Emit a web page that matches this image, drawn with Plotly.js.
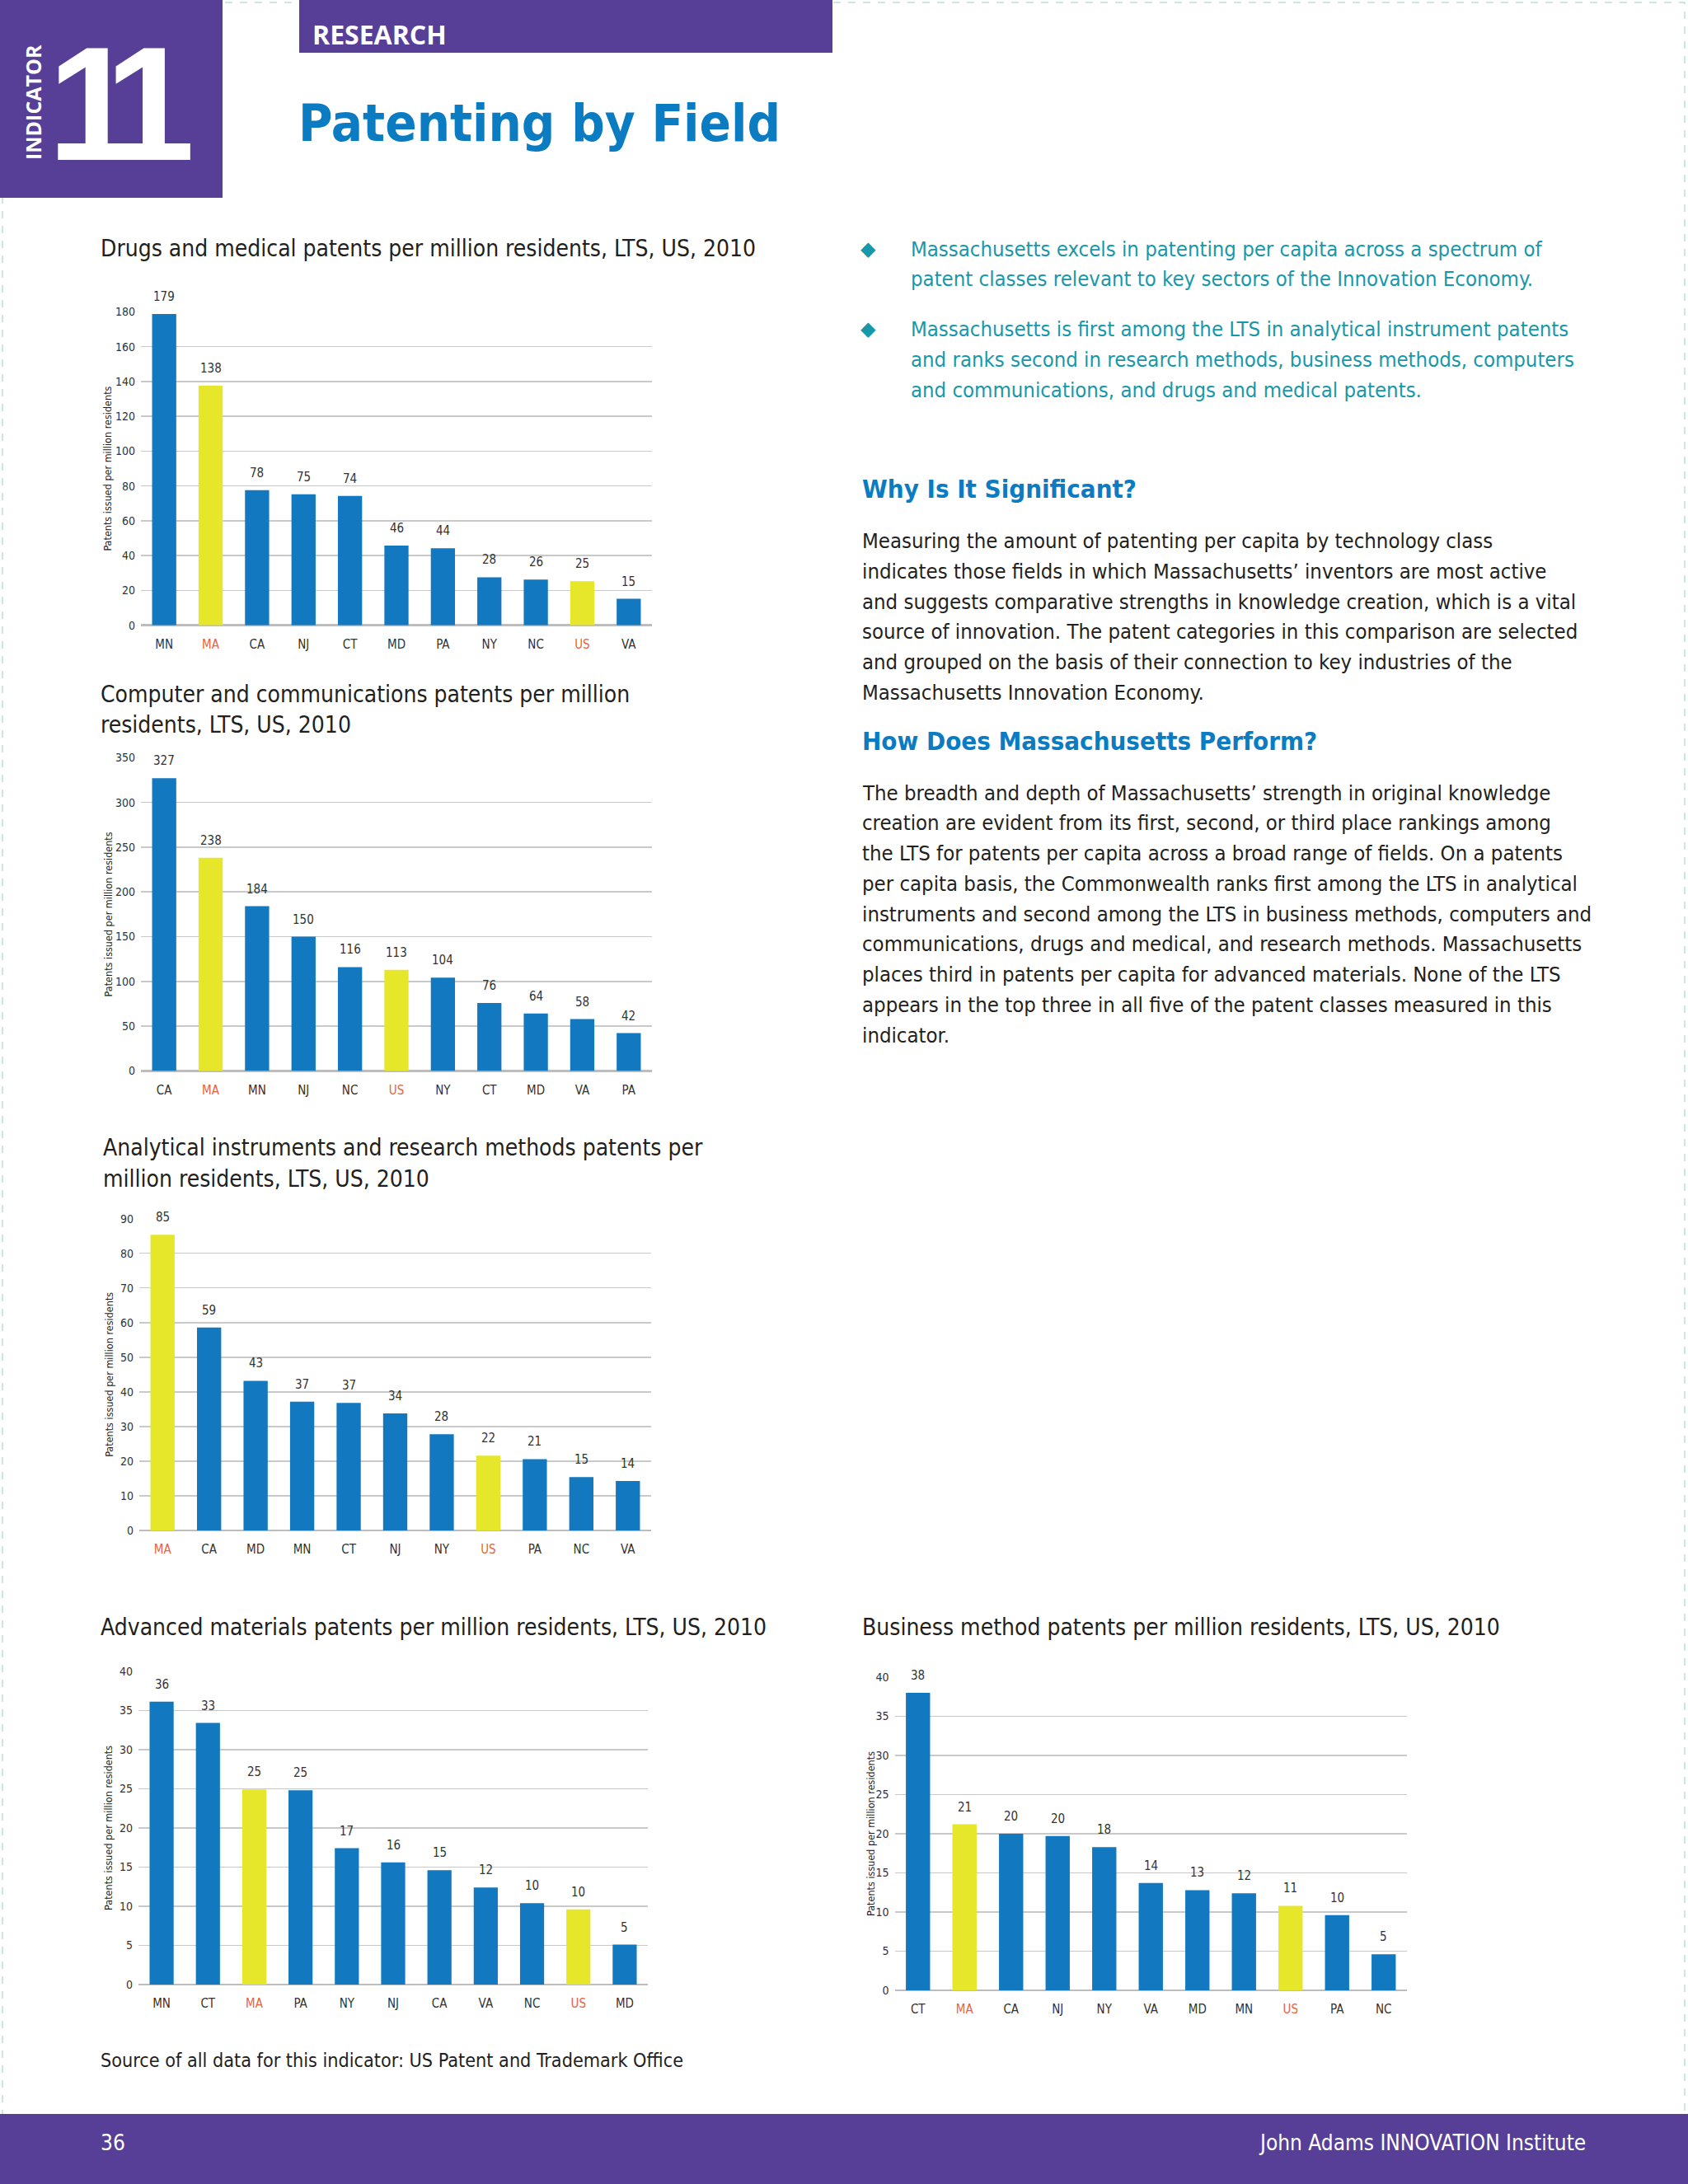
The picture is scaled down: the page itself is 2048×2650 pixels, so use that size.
<!DOCTYPE html>
<html><head><meta charset="utf-8">
<script src="https://cdn.plot.ly/plotly-3.0.1.min.js"></script>
<style>html,body{margin:0;padding:0;background:#fff}#chart{width:2048px;height:2650px}</style>
</head><body><div id="chart"></div>
<script>
const W = 2048, H = 2650;

// ---- data ----
const drugsStates = ['MN','MA','CA','NJ','CT','MD','PA','NY','NC','US','VA'];
const drugsValues = [178.8,137.6,77.6,75.3,74.3,45.8,44.3,27.6,26.2,25.3,15.2];

const compStates = ['CA','MA','MN','NJ','NC','US','NY','CT','MD','VA','PA'];
const compValues = [327.1,238.2,184.0,150.0,116.0,113.0,104.2,76.0,64.3,58.0,42.3];

const anaStates = ['MA','CA','MD','MN','CT','NJ','NY','US','PA','NC','VA'];
const anaValues = [85.3,58.6,43.2,37.2,36.8,33.8,27.8,21.6,20.6,15.4,14.3];

const advStates = ['MN','CT','MA','PA','NY','NJ','CA','VA','NC','US','MD'];
const advValues = [36.1,33.4,24.9,24.8,17.4,15.6,14.6,12.4,10.4,9.6,5.1];

const bizStates = ['CT','MA','CA','NJ','NY','VA','MD','MN','US','PA','NC'];
const bizValues = [38.0,21.2,20.0,19.7,18.3,13.7,12.8,12.4,10.8,9.6,4.6];

const highlight = ['MA','US'];

// ---- texts ----
const bullet1 = ['Massachusetts excels in patenting per capita across a spectrum of',
  'patent classes relevant to key sectors of the Innovation Economy.'];
const bullet2 = ['Massachusetts is first among the LTS in analytical instrument patents',
  'and ranks second in research methods, business methods, computers',
  'and communications, and drugs and medical patents.'];
const para1 = ['Measuring the amount of patenting per capita by technology class',
  'indicates those fields in which Massachusetts’ inventors are most active',
  'and suggests comparative strengths in knowledge creation, which is a vital',
  'source of innovation. The patent categories in this comparison are selected',
  'and grouped on the basis of their connection to key industries of the',
  'Massachusetts Innovation Economy.'];
const para2 = ['The breadth and depth of Massachusetts’ strength in original knowledge',
  'creation are evident from its first, second, or third place rankings among',
  'the LTS for patents per capita across a broad range of fields. On a patents',
  'per capita basis, the Commonwealth ranks first among the LTS in analytical',
  'instruments and second among the LTS in business methods, computers and',
  'communications, drugs and medical, and research methods. Massachusetts',
  'places third in patents per capita for advanced materials. None of the LTS',
  'appears in the top three in all five of the patent classes measured in this',
  'indicator.'];

// ---- styles ----
const NARROW = '"Liberation Sans Narrow", "DejaVu Sans Condensed", sans-serif';
const SANS = '"Liberation Sans", Arial, sans-serif';
const OPEN = '"Open Sans", sans-serif';
const BLUE = '#1279c0', YELLOW = '#e6e62a', ORANGE = '#e8623e';
const TEXT = '#231f20', TEAL = '#1798aa', HEAD = '#0b7bc2', PURPLE = '#573f98';

const X = p => p / W;
const Y = p => 1 - p / H;

const charts = [
  {states: drugsStates, values: drugsValues, max: 180, dtick: 20,
   title: ['Drugs and medical patents per million residents, LTS, US, 2010'], tx: 120, ty: [302],
   L: 171, R: 791, T: 378.5, B: 758.7, yt: 131},
  {states: compStates, values: compValues, max: 350, dtick: 50,
   title: ['Computer and communications patents per million', 'residents, LTS, US, 2010'], tx: 120, ty: [843, 880],
   L: 171, R: 791, T: 919.3, B: 1299.5, yt: 131},
  {states: anaStates, values: anaValues, max: 90, dtick: 10,
   title: ['Analytical instruments and research methods patents per', 'million residents, LTS, US, 2010'], tx: 123, ty: [1392, 1430],
   L: 169, R: 790, T: 1478.6, B: 1857.1, yt: 133},
  {states: advStates, values: advValues, max: 40, dtick: 5,
   title: ['Advanced materials patents per million residents, LTS, US, 2010'], tx: 120, ty: [1974],
   L: 168, R: 786, T: 2027.8, B: 2408, yt: 132},
  {states: bizStates, values: bizValues, max: 40, dtick: 5,
   title: ['Business method patents per million residents, LTS, US, 2010'], tx: 1044, ty: [1974],
   L: 1085.5, R: 1707, T: 2035, B: 2415, yt: 1056}
];

const traces = [];
const layout = {
  width: W, height: H, margin: {l: 0, r: 0, t: 0, b: 0},
  paper_bgcolor: '#ffffff', plot_bgcolor: 'rgba(0,0,0,0)',
  showlegend: false, annotations: [], shapes: [],
  font: {family: NARROW, color: TEXT}
};

charts.forEach((c, i) => {
  const n = i + 1;
  const xa = 'x' + (n === 1 ? '' : n), ya = 'y' + (n === 1 ? '' : n);
  traces.push({
    type: 'bar', x: c.states, y: c.values, xaxis: xa, yaxis: ya,
    width: 0.52, hoverinfo: 'skip',
    marker: {color: c.states.map(s => highlight.includes(s) ? YELLOW : BLUE), line: {width: 0}}
  });
  layout['xaxis' + (n === 1 ? '' : n)] = {
    domain: [X(c.L), X(c.R)], anchor: ya, type: 'category',
    range: [-0.5, c.states.length - 0.5],
    tickvals: c.states,
    ticktext: c.states.map(s => highlight.includes(s) ? '<span style="color:' + ORANGE + '">' + s + '</span>' : s),
    showgrid: false, showline: false, zeroline: false, ticks: '',
    ticklabelstandoff: 12,
    tickfont: {family: NARROW, size: 15, color: '#333333'}, fixedrange: true
  };
  layout['yaxis' + (n === 1 ? '' : n)] = {
    domain: [Y(c.B), Y(c.T)], anchor: xa, range: [0, c.max],
    tick0: 0, dtick: c.dtick, showgrid: true, gridcolor: '#c9c9c9', gridwidth: 1.5,
    zeroline: true, zerolinecolor: '#bdbdbd', zerolinewidth: 2.5,
    showline: false, ticks: '', ticklabelstandoff: 6,
    tickfont: {family: NARROW, size: 14, color: '#333333'}, fixedrange: true
  };
  c.states.forEach((s, k) => {
    layout.annotations.push({
      xref: xa, yref: ya, x: s, y: c.values[k], yanchor: 'bottom', yshift: 10,
      text: String(Math.round(c.values[k])), showarrow: false,
      font: {family: NARROW, size: 15, color: '#333333'}
    });
  });
  c.title.forEach((t, k) => {
    layout.annotations.push({
      xref: 'paper', yref: 'paper', x: X(c.tx), y: Y(c.ty[k]), xanchor: 'left', yanchor: 'middle',
      text: t, showarrow: false, font: {family: NARROW, size: 28, color: TEXT}
    });
  });
  layout.annotations.push({
    xref: 'paper', yref: 'paper', x: X(c.yt), y: Y((c.T + c.B) / 2), xanchor: 'center', yanchor: 'middle',
    text: 'Patents issued per million residents', textangle: -90, showarrow: false,
    font: {family: NARROW, size: 12.5, color: TEXT}
  });
});

// ---- page decoration ----
layout.shapes.push(
  {type: 'rect', xref: 'paper', yref: 'paper', x0: X(3), x1: X(2044), y0: Y(3), y1: Y(2647),
   line: {color: '#b9e0dc', width: 1.5, dash: 'dash'}, fillcolor: 'rgba(0,0,0,0)', layer: 'below'},
  {type: 'rect', xref: 'paper', yref: 'paper', x0: 0, x1: X(270), y0: Y(240), y1: 1,
   line: {width: 0}, fillcolor: PURPLE, layer: 'below'},
  {type: 'rect', xref: 'paper', yref: 'paper', x0: X(363), x1: X(1010), y0: Y(64), y1: 1,
   line: {width: 0}, fillcolor: PURPLE, layer: 'below'},
  {type: 'rect', xref: 'paper', yref: 'paper', x0: 0, x1: 1, y0: 0, y1: Y(2565),
   line: {width: 0}, fillcolor: PURPLE, layer: 'below'}
);

function txt(x, y, text, size, color, opts) {
  layout.annotations.push(Object.assign({
    xref: 'paper', yref: 'paper', x: X(x), y: Y(y), xanchor: 'left', yanchor: 'middle',
    text: text, showarrow: false, align: 'left',
    font: {family: NARROW, size: size, color: color}
  }, opts || {}));
}
function lines(x, y0, step, arr, size, color) {
  arr.forEach((t, k) => txt(x, y0 + k * step, t, size, color));
}

txt(40, 124, '<b>INDICATOR</b>', 25, '#ffffff', {xanchor: 'center', textangle: -90,
  font: {family: OPEN, size: 25, color: '#ffffff'}});
txt(56, 126, '<b><span style="letter-spacing:-29px">11</span></b>', 196, '#ffffff',
  {font: {family: SANS, size: 196, color: '#ffffff'}});
txt(377, 41, '<b>RESEARCH</b>', 32, '#ffffff', {font: {family: OPEN, size: 32, color: '#ffffff'}});
txt(360, 150, '<b>Patenting by Field</b>', 63, HEAD);

// bullets
const DIA = {xanchor: 'center', font: {family: '"DejaVu Sans", sans-serif', size: 24, color: TEAL}};
txt(1053, 302, '◆', 24, TEAL, DIA);
txt(1053, 399, '◆', 24, TEAL, DIA);
lines(1103, 302, 36.5, bullet1, 25.5, TEAL);
lines(1103, 399, 37, bullet2, 25.5, TEAL);

txt(1044, 593, '<b>Why Is It Significant?</b>', 31, HEAD);
lines(1044, 656, 36.8, para1, 25.5, TEXT);
txt(1044, 899, '<b>How Does Massachusetts Perform?</b>', 31, HEAD);
lines(1044, 961.5, 36.75, para2, 25.5, TEXT);

txt(120, 2499, 'Source of all data for this indicator: US Patent and Trademark Office', 23.2, TEXT);
txt(120, 2600, '36', 26, '#ffffff');
txt(1926, 2600, 'John Adams INNOVATION Institute', 26, '#ffffff', {xanchor: 'right'});

Plotly.newPlot('chart', traces, layout, {staticPlot: true, displayModeBar: false});
</script>
</body></html>
